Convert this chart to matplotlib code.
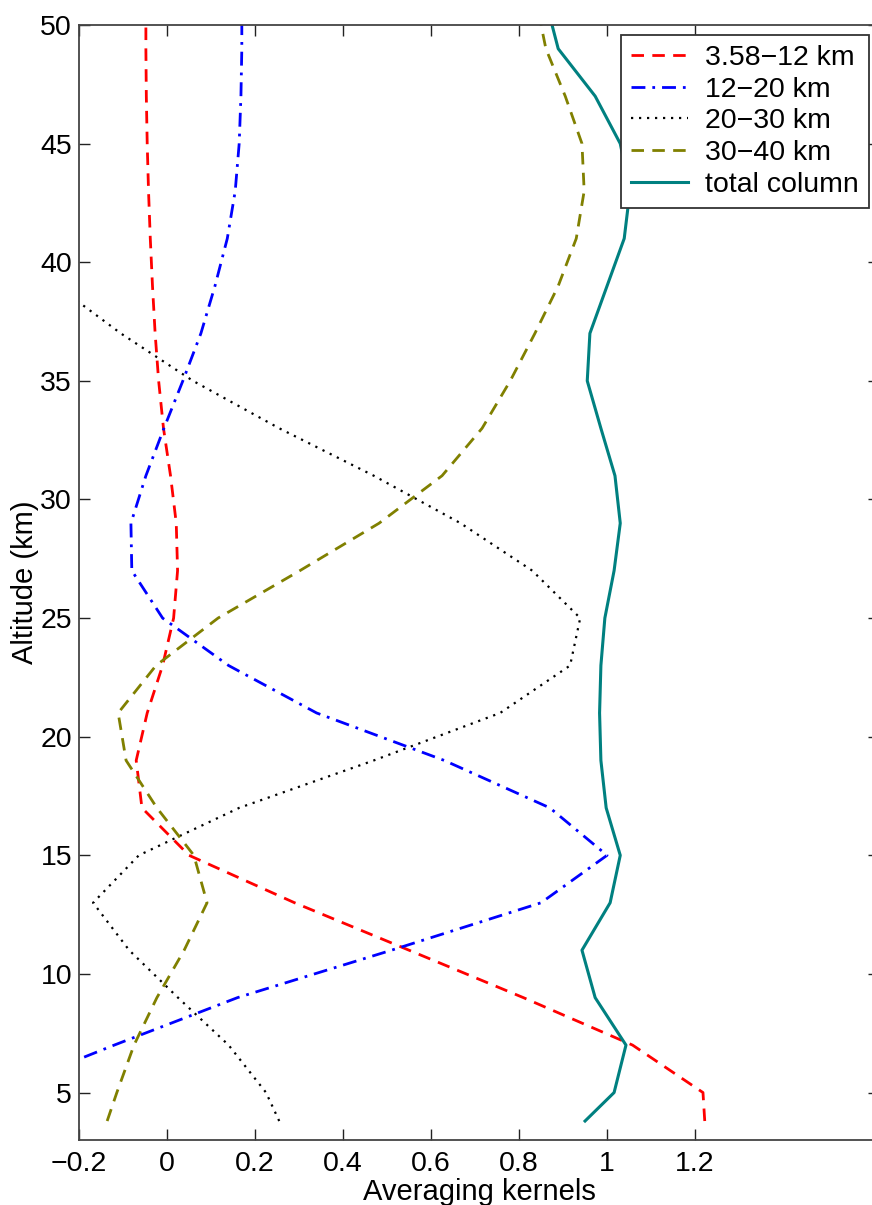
import numpy as np
import matplotlib
matplotlib.use("Agg")
import matplotlib.pyplot as plt

plt.rcParams['font.family'] = ['Liberation Sans', 'DejaVu Sans']

# retrieval levels (km) and averaging kernels for each layer
altitude = [3.8, 5, 7, 9, 11, 13, 15, 17, 19, 21, 23, 25, 27, 29, 31, 33, 35, 37, 39, 41, 43, 45, 47, 49, 50]
ak_358_12 = [1.222, 1.218, 1.058, 0.81, 0.55, 0.29, 0.05, -0.057, -0.07, -0.045, -0.01, 0.015, 0.024,
             0.021, 0.008, -0.008, -0.019, -0.027, -0.033, -0.038, -0.042, -0.045, -0.047, -0.048, -0.048]
ak_12_20 = [-0.52, -0.39, -0.12, 0.16, 0.51, 0.85, 1.00, 0.87, 0.63, 0.34, 0.14, -0.01, -0.08,
            -0.082, -0.048, -0.007, 0.036, 0.077, 0.109, 0.137, 0.155, 0.164, 0.168, 0.17, 0.17]
ak_20_30 = [0.255, 0.225, 0.14, 0.025, -0.086, -0.168, -0.064, 0.164, 0.47, 0.757, 0.916, 0.939, 0.83,
            0.667, 0.47, 0.255, 0.059, -0.105, -0.25, -0.33, -0.38, -0.41, -0.43, -0.44, -0.44]
ak_30_40 = [-0.136, -0.114, -0.075, -0.023, 0.039, 0.091, 0.061, -0.023, -0.093, -0.111, -0.025, 0.116, 0.302,
            0.482, 0.625, 0.716, 0.78, 0.836, 0.889, 0.93, 0.948, 0.943, 0.905, 0.861, 0.85]
ak_total = [0.95, 1.016, 1.043, 0.973, 0.943, 1.007, 1.03, 0.998, 0.986, 0.983, 0.986, 0.995, 1.016,
            1.03, 1.018, 0.986, 0.955, 0.961, 1.0, 1.039, 1.052, 1.03, 0.973, 0.889, 0.875]

labels = ['3.58\u221212 km', '12\u221220 km', '20\u221230 km', '30\u221240 km', 'total column']
xticks = [-0.2, 0, 0.2, 0.4, 0.6, 0.8, 1, 1.2]
xticklabels = ['\u22120.2', '0', '0.2', '0.4', '0.6', '0.8', '1', '1.2']
yticks = [5, 10, 15, 20, 25, 30, 35, 40, 45, 50]

fs = 20.5

fig = plt.figure(figsize=(8.72, 12.05), dpi=100)
ax = fig.add_axes([79 / 872, 65 / 1205, 800 / 872, 1115 / 1205])

ax.plot(ak_358_12, altitude, color='red', lw=2.0, dashes=(4.5, 3), label=labels[0])
ax.plot(ak_12_20, altitude, color='blue', lw=2.0, dashes=(5, 2.5, 1, 2.5), label=labels[1])
ax.plot(ak_20_30, altitude, color='black', lw=1.6, dashes=(1, 2.6), label=labels[2])
ax.plot(ak_30_40, altitude, color='#808000', lw=2.0, dashes=(4.5, 3), label=labels[3])
ax.plot(ak_total, altitude, color='#008080', lw=2.2, label=labels[4])

ax.set_xlim(-0.2, 1.618)
ax.set_ylim(3, 50)
ax.set_xticks(xticks)
ax.set_xticklabels(xticklabels)
ax.set_yticks(yticks)
ax.tick_params(direction='in', length=8, width=1, top=True, right=True, labelsize=fs, color='#222222')
ax.tick_params(axis='x', pad=8)
ax.tick_params(axis='y', pad=5)
for sp in ax.spines.values():
    sp.set_color('#444444')
    sp.set_linewidth(1.3)

ax.set_xlabel('Averaging kernels', fontsize=fs + 0.5, labelpad=1)
ax.set_ylabel('Altitude (km)', fontsize=fs + 0.5, labelpad=1)

leg = ax.legend(loc='upper right', fontsize=fs, frameon=True, fancybox=False, framealpha=1,
                edgecolor='#333333', borderaxespad=0.35, labelspacing=0.2, handlelength=2.0,
                handletextpad=0.6, borderpad=0.35)
leg.get_frame().set_linewidth(1.3)

fig.savefig('out.png', dpi=100)
